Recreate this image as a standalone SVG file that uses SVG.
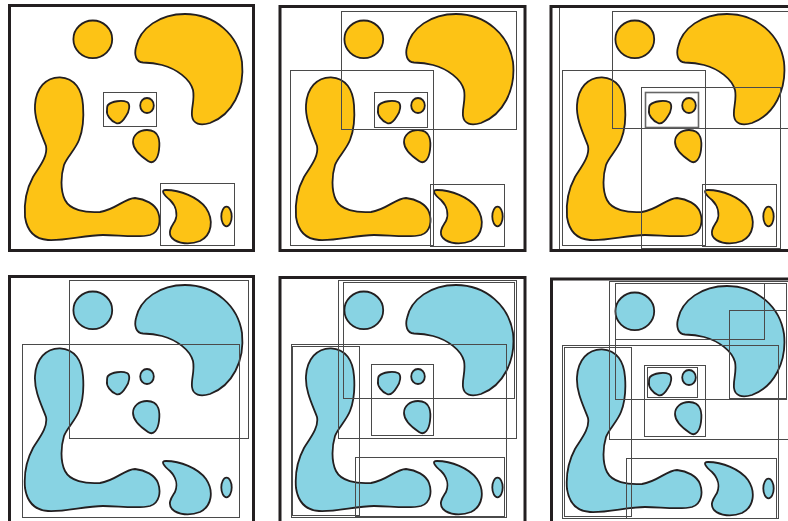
<svg xmlns="http://www.w3.org/2000/svg" xmlns:xlink="http://www.w3.org/1999/xlink" width="788" height="521" viewBox="0 0 788 521">
<style>
.blob{stroke:#231F20;stroke-width:1.8;stroke-linejoin:round}
.y{fill:#FDC315}
.b{fill:#88D3E3}
.frame{fill:none;stroke:#231F20;stroke-width:3}
.box{fill:none;stroke:#4a4a4a;stroke-width:1}
</style>
<defs>
<g id="shapes">
<ellipse class="blob" cx="92.8" cy="39.3" rx="19.4" ry="18.8"/>
<path class="blob" d="M 143,62.5 C 136,62 134,55 136,47 C 140,28 160,14 185,14 C 215,14 238,35 242,62 C 245,90 232,115 210,123 C 200,126 193,124 192,116 C 191,108 195,100 193,90 C 190,79 177,69 162,65 C 154,63 148,62.7 143,62.5 Z"/>
<path class="blob" d="M 60,77.3 C 46,77 36,88 35,105 C 34,120 42,135 46,146 C 48,156 40,166 33,177 C 26,190 24,205 25,217 C 27,230 33,239 48,240 C 65,241 85,235 103,235 C 118,235 138,238 150,235 C 160,232 161,220 158,212 C 155,204 145,199 135,198 C 125,198 115,210 100,212 C 85,213 70,210 65,200 C 60,190 61,175 64,165 C 67,157 75,150 79,140 C 83,130 84,118 83,105 C 82,90 75,78 60,77.3 Z"/>
<path class="blob" d="M 108,105 C 112,101 122,100 127,102 C 131,104 129,112 126,116 C 123,121 120,125 116,123 C 111,121 106,115 107,110 C 107,108 107,106 108,105 Z"/>
<ellipse class="blob" cx="147" cy="105.5" rx="6.8" ry="7.5"/>
<path class="blob" d="M 147,130 C 139,130 133,135 133,142 C 133,150 142,157 148,161 C 154,165 158,158 159,150 C 160,142 160,130 147,130 Z"/>
<path class="blob" d="M 166,190 C 180,190 198,197 206,208 C 214,220 212,235 200,241 C 190,245 178,244 172,238 C 167,232 172,226 175,221 C 178,214 176,206 170,200 C 164,195 160,190 166,190 Z"/>
<ellipse class="blob" cx="226.5" cy="216.5" rx="5.2" ry="9.8"/>
</g>
</defs>

<g id="panel1">
<use xlink:href="#shapes" class="y"/>
<rect class="box" x="103.5" y="92.5" width="53" height="34"/>
<rect class="box" x="160.5" y="183.5" width="74" height="62"/>
<rect class="frame" x="9.5" y="5.5" width="244" height="245"/>
</g>

<g id="panel2">
<use xlink:href="#shapes" class="y" transform="translate(271,0)"/>
<rect class="box" x="341.5" y="11.5" width="175" height="118"/>
<rect class="box" x="290.5" y="70.5" width="143" height="175"/>
<rect class="box" x="374.5" y="92.5" width="53" height="35"/>
<rect class="box" x="430.5" y="184.5" width="74" height="62"/>
<rect class="frame" x="280" y="6.5" width="245" height="244"/>
</g>

<g id="panel3">
<use xlink:href="#shapes" class="y" transform="translate(542,0)"/>
<rect class="box" x="559.5" y="7" width="240" height="243"/>
<rect class="box" x="612.5" y="11.5" width="190" height="117"/>
<rect class="box" x="562.5" y="70.5" width="143" height="175"/>
<rect class="box" x="641.5" y="87.5" width="139" height="161"/>
<rect class="box" x="645.5" y="92.5" width="53" height="35" style="stroke-width:1.6;stroke:#666"/>
<rect class="box" x="702.5" y="184.5" width="74" height="62"/>
<rect class="frame" x="551" y="6.5" width="245" height="244"/>
</g>

<g id="panel4">
<use xlink:href="#shapes" class="b" transform="translate(0,271)"/>
<rect class="box" x="69.5" y="280.5" width="179" height="158"/>
<rect class="box" x="22.5" y="344.5" width="217" height="173"/>
<rect class="frame" x="9.5" y="276.5" width="244" height="250"/>
</g>

<g id="panel5">
<use xlink:href="#shapes" class="b" transform="translate(271,271)"/>
<rect class="box" x="338.5" y="280.5" width="178" height="158"/>
<rect class="box" x="343.5" y="282.5" width="171" height="116"/>
<rect class="box" x="291.5" y="344.5" width="215" height="173"/>
<rect class="box" x="292.5" y="346.5" width="67" height="169"/>
<rect class="box" x="371.5" y="364.5" width="62" height="71"/>
<rect class="box" x="355.5" y="457.5" width="149" height="59"/>
<rect class="frame" x="280" y="277.5" width="245" height="250"/>
</g>

<g id="panel6">
<use xlink:href="#shapes" class="b" transform="translate(542,272)"/>
<rect class="box" x="609.5" y="281.5" width="190" height="158"/>
<rect class="box" x="615.5" y="283.5" width="149" height="56"/>
<rect class="box" x="615.5" y="283.5" width="171" height="116"/>
<rect class="box" x="729.5" y="310.5" width="57" height="88"/>
<rect class="box" x="562.5" y="345.5" width="216" height="173"/>
<rect class="box" x="564.5" y="347.5" width="67" height="169"/>
<rect class="box" x="644.5" y="365.5" width="61" height="71"/>
<rect class="box" x="647.5" y="367.5" width="50" height="30"/>
<rect class="box" x="626.5" y="458.5" width="150" height="60"/>
<rect class="frame" x="551.5" y="279" width="245" height="250"/>
</g>
</svg>
